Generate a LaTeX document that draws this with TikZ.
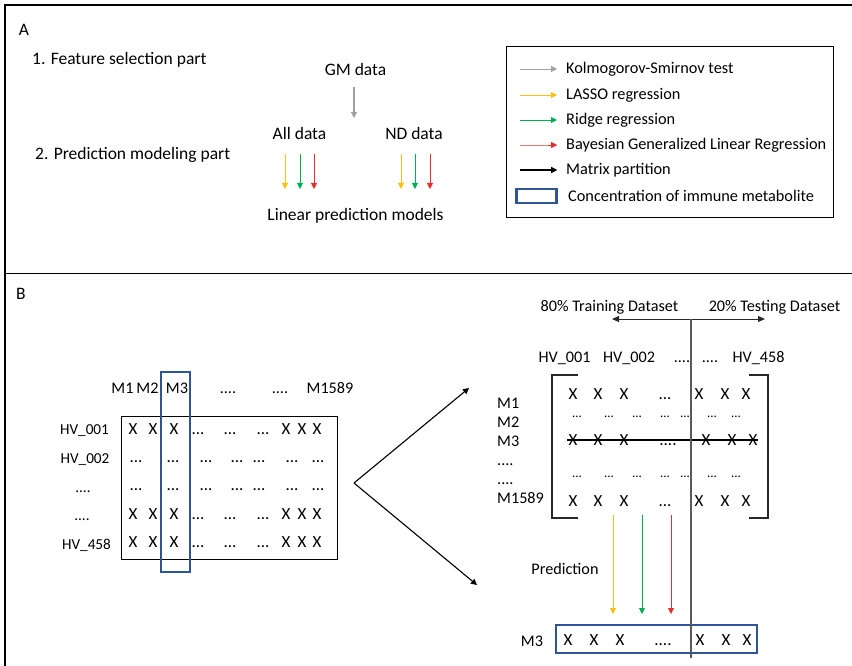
\documentclass[tikz,border=0pt]{standalone}
\usepackage{fontspec}
\setmainfont{Carlito}
\usetikzlibrary{arrows.meta}
\definecolor{cgray}{RGB}{160,160,160}
\definecolor{cyel}{RGB}{255,190,20}
\definecolor{cgrn}{RGB}{0,176,80}
\definecolor{cred}{RGB}{232,45,45}
\definecolor{cpink}{RGB}{240,120,120}
\definecolor{cblue}{RGB}{47,85,151}
\definecolor{cline}{RGB}{40,40,40}
\newcommand{\tdots}{...}
\newcommand{\qdots}{....}
\begin{document}
\begin{tikzpicture}[x=1pt,y=-1pt,
  txt/.style={inner sep=0pt,anchor=base,font=\fontsize{17.5}{20}\selectfont},
  txtw/.style={txt,anchor=base west},
  legt/.style={inner sep=0pt,anchor=base west,font=\fontsize{16.3}{19}\selectfont},
  btxt/.style={inner sep=0pt,anchor=base,font=\fontsize{16.2}{19}\selectfont},
  btxtw/.style={btxt,anchor=base west},
  hvtxt/.style={inner sep=0pt,anchor=base,font=\fontsize{15.2}{18}\selectfont},
  mtx/.style={inner sep=0pt,anchor=base,font=\fontsize{17}{20}\selectfont},
  tipped/.style={-{Triangle[width=6pt,length=6pt]}},
  thinarrow/.style={tipped,line width=0.9pt},
  bluebox/.style={draw=cblue,line width=2.6pt},
  framel/.style={draw=black,line width=1.2pt}]
\useasboundingbox (0,0) rectangle (852,666);
% frame
\draw[framel] (5,666) -- (5,5) -- (852,5);
\draw[line width=1pt] (5,273) -- (852,273);

% ---------------- Panel A ----------------
\node[txt] (labA) at (24,36) {A};
\node[txtw] (fsel) at (32,65) {1. Feature selection part};
\node[txtw] (pmod) at (35,160) {2. Prediction modeling part};
\node[txt] (gm) at (355.5,76) {GM data};
\node[txt] (alld) at (299.5,140) {All data};
\node[txt] (ndd) at (414,140) {ND data};
\node[txt] (lin) at (355.5,220) {Linear prediction models};
\coordinate (gs) at (354,87); \coordinate (ge) at (354,118);
\draw[cgray,thinarrow,line width=1.1pt] (gs) -- (ge);
\foreach \x/\c/\n in {285/cyel/1,300/cgrn/2,314/cred/3,401/cyel/4,415/cgrn/5,430/cred/6}{
  \coordinate (as\n) at (\x,154); \coordinate (ae\n) at (\x,189);
  \draw[\c,thinarrow] (as\n) -- (ae\n);
}
% legend
\node[draw,line width=0.9pt,inner sep=0pt,minimum width=327pt,minimum height=171pt] (leg) at (669.5,131.5) {};
\foreach \y/\c/\t/\n in {69/cgray/Kolmogorov-Smirnov test/1,95/cyel/LASSO regression/2,120/cgrn/Ridge regression/3,145/cpink/Bayesian Generalized Linear Regression/4,170/black/Matrix partition/5}{
  \coordinate (ls\n) at (520,\y); \coordinate (le\n) at (557,\y);
  \draw[\c,thinarrow] (ls\n) -- (le\n);
  \node[legt] (lt\n) at (566,\y+4.5) {\t};
}
\coordinate (lm4) at (548,145);
\draw[cred,thinarrow] (lm4) -- (le4);
\draw[black,thinarrow,line width=1.2pt] (ls5) -- (le5);
\node[bluebox,inner sep=0pt,minimum width=40pt,minimum height=14pt] (lbox) at (536.5,196) {};
\node[legt] (lt6) at (568,202) {Concentration of immune metabolite};

% ---------------- Panel B ----------------
\node[txt] (labB) at (21,299) {B};
% left matrix header
\node[btxt] (hm1) at (122.5,393) {M1};
\node[btxt] (hm2) at (147.5,393) {M2};
\node[btxt] (hm3) at (177,393) {M3};
\node[btxt] (hd1) at (228,393) {....};
\node[btxt] (hd2) at (280,393) {....};
\node[btxt] (hm4) at (330,393) {M1589};
% row labels
\node[hvtxt] (r1) at (84.5,434) {HV\_001};
\node[hvtxt] (r2) at (85,463) {HV\_002};
\node[hvtxt] (r3) at (83,492) {....};
\node[hvtxt] (r4) at (82,520) {....};
\node[hvtxt] (r5) at (86.5,549) {HV\_458};
% matrix box
\node[draw,line width=1pt,inner sep=0pt,minimum width=216pt,minimum height=143pt] (mat) at (229,487.5) {};
% rows with X
\foreach \yy/\r in {434/a,519/d,547/e}{
  \foreach \x/\t/\k in {133/X/1,153/X/2,174/X/3,198/\tdots/4,230/\tdots/5,263/\tdots/6,286/X/7,302/X/8,317/X/9}{
    \node[mtx] (m\r\k) at (\x,\yy) {\t};
  }
}
\foreach \yy/\r in {462/b,490/c}{
  \foreach \x/\k in {136/1,173/2,206/3,237/4,259/5,292/6,318/7}{
    \node[mtx] (m\r\k) at (\x,\yy) {\tdots};
  }
}
\node[bluebox,inner sep=0pt,minimum width=29pt,minimum height=200pt] (colbox) at (175.5,472) {};

% partition arrows
\coordinate (apex) at (354,483);
\coordinate (up) at (469,388);
\coordinate (dn) at (477,585);
\draw[line width=1.1pt,tipped] (apex) -- (up);
\draw[line width=1.1pt,tipped] (apex) -- (dn);

% right side
\node[btxt] (tr) at (609.5,311) {80\% Training Dataset};
\node[btxt] (te) at (774.5,311) {20\% Testing Dataset};
\coordinate (dl) at (612,319); \coordinate (dr) at (765,319);
\coordinate (vt) at (691,319); \coordinate (vb) at (691,658);
\draw[cline,line width=1pt,{Triangle[width=6pt,length=7pt]}-{Triangle[width=6pt,length=7pt]}] (dl) -- (dr);

\node[btxt] (c1) at (564.5,362) {HV\_001};
\node[btxt] (c2) at (629,362) {HV\_002};
\node[btxt] (c3) at (682,362) {....};
\node[btxt] (c4) at (710,362) {....};
\node[btxt] (c5) at (758.5,362) {HV\_458};

\node[btxtw] (rm1) at (497,408) {M1};
\node[btxtw] (rm2) at (497,427) {M2};
\node[btxtw] (rm3) at (497,446) {M3};
\node[btxtw] (rm4) at (497,465) {....};
\node[btxtw] (rm5) at (497,484) {....};
\node[btxtw] (rm6) at (497,503) {M1589};

\coordinate (bl1) at (578,375); \coordinate (bl2) at (552,375);
\coordinate (bl3) at (552,518); \coordinate (bl4) at (578,518);
\coordinate (br1) at (749,375); \coordinate (br2) at (768,375);
\coordinate (br3) at (768,518); \coordinate (br4) at (749,518);
\draw[cline,line width=1.4pt] (bl1) -- (bl2) -- (bl3) -- (bl4);
\draw[cline,line width=1.4pt] (br1) -- (br2) -- (br3) -- (br4);

\foreach \yy/\r in {399/a,506/e}{
  \foreach \x/\t/\k in {573/X/1,598/X/2,624/X/3,665/\tdots/4,699/X/5,725/X/6,746/X/7}{
    \node[mtx] (n\r\k) at (\x,\yy) {\t};
  }
}
\foreach \x/\t/\k in {573/X/1,598/X/2,624/X/3,668/\qdots/4,706/X/5,732/X/6,753/X/7}{
  \node[mtx] (nc\k) at (\x,445) {\t};
}
\foreach \yy/\r in {417/b,477/d}{
  \foreach \x/\k in {577/1,609/2,637/3,665/4,685/5,712/6,736/7}{
    \node[mtx,font=\fontsize{13}{15}\selectfont] (n\r\k) at (\x,\yy) {\tdots};
  }
}
\coordinate (s1) at (567,440); \coordinate (s2) at (758,440);
\draw[black,line width=1.8pt] (s1) -- (s2);

% prediction arrows
\node[btxt] (pred) at (565,574) {Prediction};
\foreach \x/\c/\n in {613/cyel/1,642/cgrn/2,671/cred/3}{
  \coordinate (ps\n) at (\x,515); \coordinate (pe\n) at (\x,614);
  \draw[\c,thinarrow] (ps\n) -- (pe\n);
}
\node[btxt] (bm3) at (532,646) {M3};
\node[bluebox,inner sep=0pt,minimum width=201pt,minimum height=28pt] (resbox) at (656.5,639) {};
\foreach \x/\t/\k in {568/X/1,594/X/2,620/X/3,663/\qdots/4,700/X/5,726/X/6,747/X/7}{
  \node[mtx] (q\k) at (\x,645) {\t};
}
\draw[black!65,line width=1.1pt] (vt) -- (vb);
\end{tikzpicture}
\end{document}
